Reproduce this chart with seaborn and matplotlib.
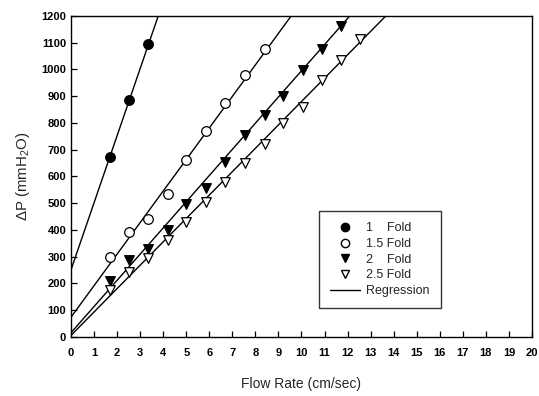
import numpy as np
import pandas as pd
import matplotlib
matplotlib.use("Agg")
import matplotlib.pyplot as plt
from matplotlib.lines import Line2D
import seaborn as sns

# ---- data ----
x_1 = [1.7, 2.5, 3.35]
y_1 = [672, 887, 1097]

x_15 = [1.7, 2.5, 3.35, 4.2, 5.0, 5.85, 6.7, 7.55, 8.4]
y_15 = [299, 392, 441, 535, 661, 769, 873, 980, 1075]

x_2 = [1.7, 2.5, 3.35, 4.2, 5.0, 5.85, 6.7, 7.55, 8.4, 9.2, 10.05, 10.9, 11.7]
y_2 = [209, 288, 329, 400, 498, 556, 655, 753, 828, 899, 997, 1075, 1162]

x_25 = [1.7, 2.5, 3.35, 4.2, 5.0, 5.85, 6.7, 7.55, 8.4, 9.2, 10.05, 10.9, 11.7, 12.55]
y_25 = [175, 244, 294, 363, 429, 503, 578, 650, 722, 800, 860, 959, 1035, 1115]

series_labels = ["1    Fold", "1.5 Fold", "2    Fold", "2.5 Fold"]
reg_intercepts = [250, 73, 15, 5]
reg_slopes = [251, 118, 98, 87.5]

x_ticks = list(range(0, 21))
y_ticks = list(range(0, 1201, 100))

sns.set_style("ticks")
plt.rcParams["font.family"] = ["Liberation Sans", "DejaVu Sans"]
plt.rcParams["mathtext.fontset"] = "custom"
plt.rcParams["mathtext.rm"] = "Liberation Sans"

fig = plt.figure(figsize=(5.39, 3.96), dpi=100)
ax = fig.add_axes([0.1317, 0.1497, 0.987 - 0.1317, 0.9596 - 0.1497])

xs = [x_1, x_15, x_2, x_25]
ys = [y_1, y_15, y_2, y_25]
markers = ["o", "o", "v", "v"]
faces = ["black", "white", "black", "white"]

line_x = np.array([0, 20])
for b, m in zip(reg_intercepts, reg_slopes):
    sns.lineplot(x=line_x, y=b + m * line_x, ax=ax, color="black", lw=1.0,
                 zorder=2)

for x, y, mk, fc in zip(xs, ys, markers, faces):
    sns.scatterplot(x=x, y=y, ax=ax, marker=mk, s=48, facecolor=fc,
                    edgecolor="black", linewidth=0.9, zorder=3)

ax.set_xlim(0, 20)
ax.set_ylim(0, 1200)
ax.set_xticks(x_ticks)
ax.set_yticks(y_ticks)
ax.tick_params(direction="in", length=4, width=0.9, labelsize=8,
               colors="black")
ax.tick_params(axis="x", pad=8)
ax.tick_params(axis="y", pad=3.5)
for t in ax.get_xticklabels() + ax.get_yticklabels():
    t.set_fontweight("bold")
for s in ax.spines.values():
    s.set_visible(True)
    s.set_linewidth(1.0)
    s.set_color("black")

ax.set_xlabel("Flow Rate (cm/sec)", fontsize=10, labelpad=14)
ax.set_ylabel(r"ΔP (mmH$_2$O)", fontsize=10.8, labelpad=7)

handles = []
for mk, fc, lab in zip(markers, faces, series_labels):
    handles.append(Line2D([], [], marker=mk, linestyle="none",
                          markerfacecolor=fc, markeredgecolor="black",
                          markersize=6, label=lab))
handles.append(Line2D([], [], color="black", lw=1.0, label="Regression"))
leg = ax.legend(handles=handles, loc="upper left",
                bbox_to_anchor=(0.537, 0.392), borderaxespad=0,
                fontsize=9, frameon=True, fancybox=False, edgecolor="black",
                borderpad=0.9, labelspacing=0.3, handlelength=2.4,
                handletextpad=0.5)
leg._legend_box.align = "left"
leg.get_frame().set_linewidth(1.0)

fig.savefig("out.png", dpi=100)
